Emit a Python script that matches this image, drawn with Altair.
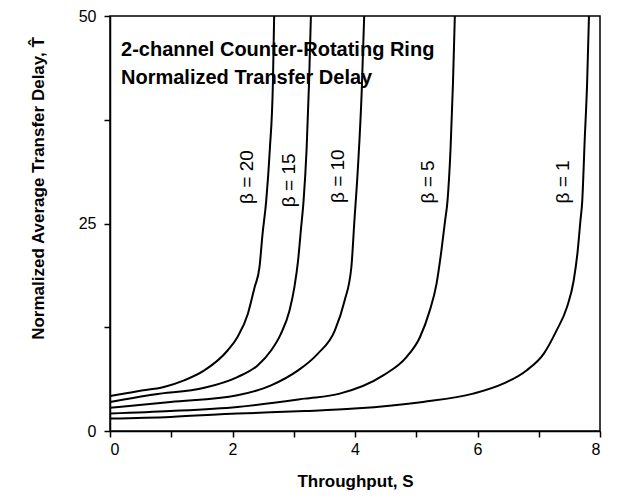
import altair as alt
import pandas as pd

# Curve data (Throughput S, normalized delay T)
s20 = [0, 0.45, 0.88, 1.21, 1.54, 1.92, 2.08, 2.25, 2.36, 2.44, 2.49, 2.55, 2.61, 2.66, 2.68]
t20 = [4.2, 4.8, 5.3, 6.1, 7.3, 9.7, 11.3, 14.1, 17.3, 19.7, 23.7, 27.7, 34, 42, 50]

s15 = [0, 0.72, 1.54, 2.08, 2.41, 2.63, 2.79, 2.93, 3.01, 3.07, 3.12, 3.16, 3.21, 3.25, 3.28]
t15 = [3.5, 4.4, 5.2, 6.5, 7.9, 9.7, 11.7, 14.5, 17.3, 20.5, 24.5, 27.7, 34, 42, 50]

s10 = [0, 0.99, 2.08, 2.63, 3.07, 3.39, 3.67, 3.83, 3.94, 3.99, 4.05, 4.11, 4.15]
t10 = [2.8, 3.5, 4.3, 5.5, 7.3, 9.3, 12.1, 15.7, 19.7, 25.3, 32, 41, 50]

s5 = [0, 0.99, 2.08, 3.18, 3.75, 4.46, 4.84, 5.06, 5.22, 5.33, 5.41, 5.47, 5.51, 5.56, 5.6, 5.63]
t5 = [2.1, 2.4, 2.9, 3.9, 4.5, 6.7, 8.9, 11.3, 14.5, 17.7, 21.7, 25.3, 27.7, 34, 42, 50]

s1 = [0, 0.99, 2.08, 3.18, 3.99, 5.11, 5.93, 6.42, 6.80, 7.08, 7.29, 7.46, 7.57, 7.63, 7.68, 7.71, 7.75, 7.79, 7.82]
t1 = [1.5, 1.7, 2.1, 2.4, 2.7, 3.5, 4.5, 5.7, 7.3, 9.3, 12.1, 14.9, 18.1, 21.3, 25.3, 27.7, 35, 42, 50]

# Curve labels
label_text = ["\u03b2 = 20", "\u03b2 = 15", "\u03b2 = 10", "\u03b2 = 5", "\u03b2 = 1"]
label_s = [2.23, 2.93, 3.72, 5.19, 7.39]
label_t = [30.6, 30.2, 30.7, 30.0, 30.0]

# In-plot title lines
title_lines = ["2-channel Counter-Rotating Ring", "Normalized Transfer Delay"]
title_s = [0.18, 0.18]
title_t = [45.2, 41.8]

x_ticks = [0, 1, 2, 3, 4, 5, 6, 7, 8]
y_ticks = [0, 12.5, 25, 37.5, 50]

rows = []
for name, ss, tt in [("20", s20, t20), ("15", s15, t15), ("10", s10, t10), ("5", s5, t5), ("1", s1, t1)]:
    for i, (a, b) in enumerate(zip(ss, tt)):
        rows.append({"beta": name, "S": a, "T": b, "i": i})
df = pd.DataFrame(rows)
lab_df = pd.DataFrame({"label": label_text, "S": label_s, "T": label_t})
tit_df = pd.DataFrame({"text": title_lines, "S": title_s, "T": title_t})

FONT = "Liberation Sans"

xscale = alt.Scale(domain=[0, 8], nice=False, zero=False)
yscale = alt.Scale(domain=[0, 50], nice=False)

xaxis = alt.Axis(values=x_ticks, format="d", labelExpr="datum.value % 2 == 0 ? datum.label : ''",
                 title="Throughput, S", titlePadding=16, grid=False, labelPadding=4)
yaxis = alt.Axis(values=y_ticks, labelExpr="datum.value % 25 == 0 ? datum.label : ''",
                 title="Normalized Average Transfer Delay, T\u0302", grid=False, labelPadding=8,
                 titleX=-72, titleY=172, titleBaseline="middle", titleAlign="center", titleAngle=270)

lines = alt.Chart(df).mark_line(color="black", strokeWidth=2, interpolate="monotone").encode(
    x=alt.X("S:Q", scale=xscale, axis=xaxis),
    y=alt.Y("T:Q", scale=yscale, axis=yaxis),
    detail="beta:N",
    order="i:Q",
)

labels = alt.Chart(lab_df).mark_text(angle=270, fontSize=19, font=FONT, color="black").encode(
    x=alt.X("S:Q", scale=xscale),
    y=alt.Y("T:Q", scale=yscale),
    text="label:N",
)

titles = alt.Chart(tit_df).mark_text(align="left", baseline="alphabetic", fontSize=20,
                                     fontWeight="bold", font=FONT, color="black").encode(
    x=alt.X("S:Q", scale=xscale),
    y=alt.Y("T:Q", scale=yscale),
    text="text:N",
)

chart = alt.layer(lines, labels, titles).properties(
    width=490, height=415,
    padding={"left": 102, "top": 8, "right": 10, "bottom": 62},
    autosize="none",
).configure_view(stroke="black", strokeWidth=1.5).configure_axis(
    domainColor="black", domainWidth=1.5, tickColor="black", tickWidth=1.5, tickSize=6,
    labelFont=FONT, labelFontSize=16, labelColor="black",
    titleFont=FONT, titleFontSize=17, titleFontWeight="bold", titleColor="black",
)

chart.save("out.html", embed_options={"renderer": "svg", "actions": False})
